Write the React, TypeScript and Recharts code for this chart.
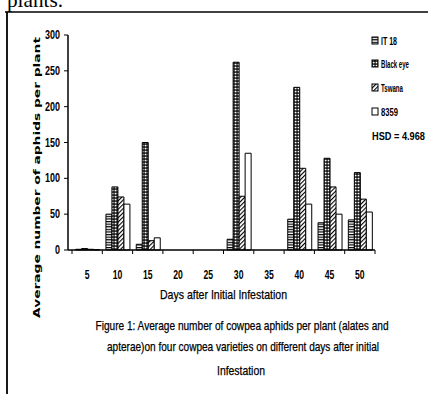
import React from 'react';
import { BarChart, Bar, XAxis, YAxis, Legend } from 'recharts';

// ---- data ----
const days = ['5', '10', '15', '20', '25', '30', '35', '40', '45', '50'];
const it18 = [1, 50, 8, 0, 0, 15, 0, 43, 38, 42];
const blackEye = [2, 88, 150, 0, 0, 262, 0, 227, 128, 108];
const tswana = [1, 74, 13, 0, 0, 75, 0, 114, 88, 71];
const v8359 = [0.5, 64, 17, 0, 0, 135, 0, 64, 50, 53];
const seriesNames = ['IT 18', 'Black eye', 'Tswana', '8359'];
const yTicks = [0, 50, 100, 150, 200, 250, 300];
const xTitle = 'Days after Initial Infestation';
const yTitle = 'Average number of aphids per plant';
const hsdNote = 'HSD = 4.968';
const headText = 'plants.';
const captionLines = [
  'Figure 1: Average number of cowpea aphids per plant (alates and',
  'apterae)on four cowpea varieties on different days after initial',
  'Infestation',
];

const data = days.map((d, i) => ({
  day: d,
  it18: it18[i],
  blackEye: blackEye[i],
  tswana: tswana[i],
  v8359: v8359[i],
}));

const seriesKeys = ['it18', 'blackEye', 'tswana', 'v8359'];
const fills = ['url(#pIT)', 'url(#pBE)', 'url(#pTS)', '#ffffff'];

// ---- layout constants ----
const W = 428;
const H = 394;
const AXIS_Y = 250;
const BAND = 30.3;
const SANS = "'Liberation Sans', Arial, sans-serif";
const DIGIT_W = 4.8;

const XTick = (props: any) => {
  const { x, payload, index } = props;
  const half = BAND / 2;
  const s = String(payload.value);
  return (
    <g>
      <line x1={x - half} x2={x - half} y1={AXIS_Y} y2={AXIS_Y + 4} stroke="#000" strokeWidth={1} />
      {index === days.length - 1 && (
        <line x1={x + half} x2={x + half} y1={AXIS_Y} y2={AXIS_Y + 4} stroke="#000" strokeWidth={1} />
      )}
      <text x={x} y={279} textAnchor="middle" fontFamily={SANS} fontWeight="bold" fontSize={12} fill="#000"
        textLength={s.length * DIGIT_W} lengthAdjust="spacingAndGlyphs">
        {s}
      </text>
    </g>
  );
};

const YTick = (props: any) => {
  const { x, y, payload } = props;
  const s = String(payload.value);
  return (
    <text x={x} y={y + 4} textAnchor="end" fontFamily={SANS} fontWeight="bold" fontSize={12} fill="#000"
      textLength={s.length * 5} lengthAdjust="spacingAndGlyphs">
      {s}
    </text>
  );
};

const legendLens = [16, 28, 22, 17];

const LegendBox = () => {
  const rows = [41, 64, 88, 112];
  return (
    <svg width={62} height={115} style={{ display: 'block' }}>
      {seriesNames.map((n, i) => (
        <g key={n}>
          <rect x={6} y={rows[i] - 34 - 4} width={6} height={7} fill={fills[i]} stroke="#000" strokeWidth={1} />
          <text x={15} y={rows[i] - 34 + 4} fontFamily={SANS} fontWeight="bold" fontSize={10.5} fill="#000"
            textLength={legendLens[i]} lengthAdjust="spacingAndGlyphs">
            {n}
          </text>
        </g>
      ))}
      <text x={6} y={135 - 34 + 4.5} fontFamily={SANS} fontWeight="bold" fontSize={10.5} fill="#000" textLength={53} lengthAdjust="spacingAndGlyphs">
        {hsdNote}
      </text>
    </svg>
  );
};

export default function App() {
  return (
    <div style={{ position: 'absolute', left: 0, top: 0, width: W, height: H, background: '#fff', overflow: 'hidden' }}>
      <svg width={0} height={0} style={{ position: 'absolute' }}>
        <defs>
          <pattern id="pIT" width={4} height={2.6} patternUnits="userSpaceOnUse">
            <rect width={4} height={2.6} fill="#fff" />
            <rect width={4} height={1.2} fill="#000" />
          </pattern>
          <pattern id="pBE" width={3} height={3} patternUnits="userSpaceOnUse">
            <rect width={3} height={3} fill="#000" />
            <rect x={0.6} y={0.7} width={1.9} height={1.7} fill="#fff" />
          </pattern>
          <pattern id="pTS" width={3} height={3} patternUnits="userSpaceOnUse" patternTransform="rotate(45)">
            <rect width={3} height={3} fill="#fff" />
            <rect width={1.1} height={3} fill="#000" />
          </pattern>
        </defs>
      </svg>
      <BarChart
        width={W}
        height={H}
        data={data}
        margin={{ top: 35, right: 53, bottom: 114, left: 8 }}
        barCategoryGap="12%"
        barGap={0}
      >
        <XAxis
          dataKey="day"
          interval={0}
          height={30}
          padding={{ left: 4, right: 0 }}
          axisLine={{ stroke: '#000', strokeWidth: 1.5 }}
          tickLine={false}
          tick={<XTick />}
          label={{
            content: () => (
              <text x={223.5} y={299} textAnchor="middle" fontFamily={SANS} fontSize={13} fill="#000"
                stroke="#000" strokeWidth={0.25} textLength={127} lengthAdjust="spacingAndGlyphs">
                {xTitle}
              </text>
            ),
          }}
        />
        <YAxis
          width={60}
          domain={[0, 300]}
          ticks={yTicks}
          interval={0}
          tickSize={4}
          tickMargin={4}
          axisLine={{ stroke: '#000', strokeWidth: 1.5 }}
          tickLine={{ stroke: '#000' }}
          tick={<YTick />}
          label={{
            content: () => (
              <text
                x={0}
                y={0}
                transform="translate(40 177.5) rotate(-90)"
                textAnchor="middle"
                fontFamily="'DejaVu Sans', sans-serif"
                fontWeight="bold"
                fontSize={9.5}
                fill="#000"
                textLength={281}
                lengthAdjust="spacingAndGlyphs"
              >
                {yTitle}
              </text>
            ),
          }}
        />
        <Legend
          layout="vertical"
          align="center"
          verticalAlign="middle"
          content={() => <LegendBox />}
          wrapperStyle={{ left: 366, top: 34, width: 62, height: 115, right: 'auto', bottom: 'auto' }}
        />
        {seriesKeys.map((k, i) => (
          <Bar
            key={k}
            dataKey={k}
            name={seriesNames[i]}
            fill={fills[i]}
            stroke="#000"
            strokeWidth={1}
            isAnimationActive={false}
          />
        ))}
      </BarChart>
      <svg width={W} height={H} style={{ position: 'absolute', left: 0, top: 0, pointerEvents: 'none' }}>
        <line x1={5} x2={W} y1={12} y2={12} stroke="#000" strokeWidth={1.6} />
        <line x1={7} x2={7} y1={12} y2={H} stroke="#000" strokeWidth={1.8} />
        <text x={7} y={7} fontFamily="'Liberation Serif', 'DejaVu Serif', serif" fontSize={22} fill="#000" textLength={56} lengthAdjust="spacingAndGlyphs">
          {headText}
        </text>
        {captionLines.map((t, i) => {
          const ys = [330, 351, 375];
          const lens = [293, 272, 48];
          const xs = [242, 243, 241];
          return (
            <text key={i} x={xs[i]} y={ys[i]} textAnchor="middle" fontFamily={SANS} fontSize={13} fill="#000"
              stroke="#000" strokeWidth={0.25} textLength={lens[i]} lengthAdjust="spacingAndGlyphs">
              {t}
            </text>
          );
        })}
      </svg>
    </div>
  );
}
